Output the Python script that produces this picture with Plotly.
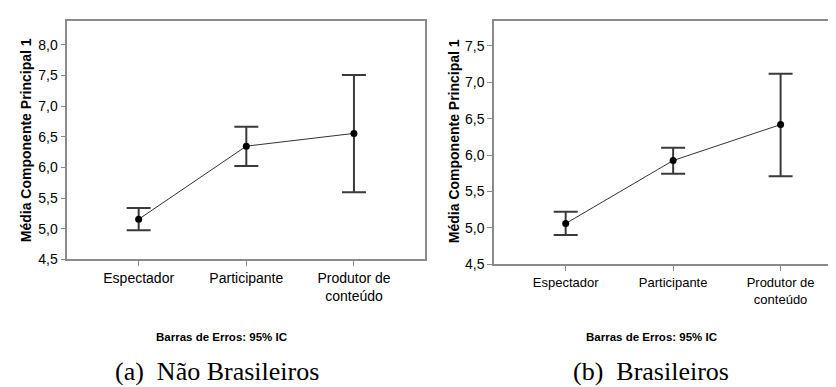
import plotly.graph_objects as go

# ---- data ----
categories = ["Espectador", "Participante", "Produtor de conteúdo"]
tick_labels = ["Espectador", "Participante", "Produtor de<br>conteúdo"]

nb_mean = [5.155, 6.348, 6.556]
nb_lower = [4.974, 6.024, 5.597]
nb_upper = [5.337, 6.663, 7.510]

br_mean = [5.060, 5.925, 6.418]
br_lower = [4.903, 5.742, 5.710]
br_upper = [5.222, 6.100, 7.117]

nb_yticks = [4.5, 5.0, 5.5, 6.0, 6.5, 7.0, 7.5, 8.0]
br_yticks = [4.5, 5.0, 5.5, 6.0, 6.5, 7.0, 7.5]

y_title = "Média Componente Principal 1"
note = "Barras de Erros: 95% IC"
captions = ["(a)\u00a0 Não Brasileiros", "(b)\u00a0 Brasileiros"]

W, H = 836, 387

def fmt(v):
    return f"{v:.1f}".replace(".", ",")

fig = go.Figure()

def add_panel(mean, lower, upper, xa, ya):
    fig.add_trace(go.Scatter(
        x=categories, y=mean, xaxis=xa, yaxis=ya,
        mode="lines+markers",
        line=dict(color="#333333", width=1),
        marker=dict(color="black", size=7),
        error_y=dict(type="data", symmetric=False,
                     array=[u - m for u, m in zip(upper, mean)],
                     arrayminus=[m - l for m, l in zip(mean, lower)],
                     color="#3a3a3a", thickness=2, width=12),
        showlegend=False, hoverinfo="skip",
    ))

add_panel(nb_mean, nb_lower, nb_upper, "x", "y")
add_panel(br_mean, br_lower, br_upper, "x2", "y2")

axcol = "#8a8a8a"
sans = "Liberation Sans, Arial, sans-serif"
tickfont = dict(family=sans, size=14, color="black")

def px_x(p):
    return p / W

def px_y(p):
    return 1 - p / H

fig.update_layout(
    width=W, height=H,
    margin=dict(l=0, r=0, t=0, b=0),
    paper_bgcolor="white", plot_bgcolor="white",
    xaxis=dict(domain=[px_x(59.3), px_x(417)], type="category",
               range=[-0.663, 2.66], tickvals=categories, ticktext=tick_labels,
               showline=True, linecolor=axcol, linewidth=1.5, mirror=True,
               ticks="outside", ticklen=5, tickcolor=axcol, showgrid=False,
               zeroline=False, tickfont=tickfont, anchor="y"),
    yaxis=dict(domain=[px_y(256.7), px_y(13.3)], range=[4.5, 8.39],
               tickvals=nb_yticks, ticktext=[fmt(v) for v in nb_yticks],
               showline=True, linecolor=axcol, linewidth=1.5, mirror=True,
               ticks="outside", ticklen=5, tickcolor=axcol, showgrid=False,
               zeroline=False, tickfont=tickfont, anchor="x"),
    xaxis2=dict(domain=[px_x(486), 1.0], type="category",
                range=[-0.667, 2.59], tickvals=categories, ticktext=tick_labels,
                showline=True, linecolor=axcol, linewidth=1.5, mirror=True,
                ticks="outside", ticklen=5, tickcolor=axcol, showgrid=False,
                zeroline=False, tickfont=dict(tickfont, size=13), anchor="y2"),
    yaxis2=dict(domain=[px_y(261.7), px_y(13.3)], range=[4.5, 7.84],
                tickvals=br_yticks, ticktext=[fmt(v) for v in br_yticks],
                showline=True, linecolor=axcol, linewidth=1.5, mirror=False,
                ticks="outside", ticklen=5, tickcolor=axcol, showgrid=False,
                zeroline=False, tickfont=tickfont, anchor="x2"),
)

ann = []
for xc, yc in [(18, 135), (446, 136)]:
    ann.append(dict(text="<b>" + y_title + "</b>", x=px_x(xc), y=px_y(yc),
                    xref="paper", yref="paper", showarrow=False, textangle=-90,
                    xanchor="center", yanchor="middle",
                    font=dict(family=sans, size=14, color="black")))
for xc in [213, 643]:
    ann.append(dict(text="<b>" + note + "</b>", x=px_x(xc), y=px_y(336),
                    xref="paper", yref="paper", showarrow=False,
                    xanchor="center", yanchor="middle",
                    font=dict(family=sans, size=11.5, color="black")))
for xc, cap in zip([209, 643], captions):
    ann.append(dict(text=cap, x=px_x(xc), y=px_y(371),
                    xref="paper", yref="paper", showarrow=False,
                    xanchor="center", yanchor="middle",
                    font=dict(family="Liberation Serif, Times New Roman, serif", size=26, color="black")))
fig.update_layout(annotations=ann)

fig.write_html("out.html")
